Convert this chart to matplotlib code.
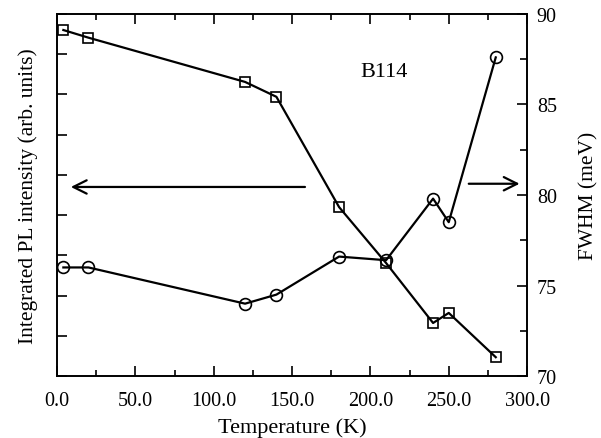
import matplotlib
matplotlib.use("Agg")
import matplotlib.pyplot as plt
from matplotlib.ticker import MultipleLocator, NullFormatter

plt.rcParams['font.family'] = 'Liberation Serif'
plt.rcParams['font.size'] = 14.5

# temperature (K)
temp = [4, 20, 120, 140, 180, 210, 240, 250, 280]
# integrated PL intensity, arb. units (left axis, squares)
intensity = [8.6, 8.41, 7.31, 6.94, 4.2, 2.81, 1.32, 1.57, 0.47]
# FWHM in meV (right axis, circles)
fwhm = [76.0, 76.0, 74.0, 74.5, 76.6, 76.4, 79.8, 78.5, 87.6]

fig, ax = plt.subplots(figsize=(6.01, 4.39), dpi=100)
fig.subplots_adjust(left=0.095, right=0.877, top=0.966, bottom=0.141)
ax2 = ax.twinx()

ax.plot(temp, intensity, 'ks-', mfc='none', ms=7, mew=1.2, lw=1.6)
ax2.plot(temp, fwhm, 'ko-', mfc='none', ms=8.5, mew=1.2, lw=1.6)

ax.set_xlim(0, 300)
ax.set_ylim(0, 9)
ax2.set_ylim(70, 90)

ax.xaxis.set_major_locator(MultipleLocator(50))
ax.xaxis.set_minor_locator(MultipleLocator(25))
ax.xaxis.set_major_formatter(lambda v, p: f"{v:.1f}")
ax.yaxis.set_major_locator(MultipleLocator(1))
ax.yaxis.set_major_formatter(NullFormatter())
ax2.yaxis.set_major_locator(MultipleLocator(5))
ax2.yaxis.set_minor_locator(MultipleLocator(2.5))

ax.tick_params(axis='x', which='both', direction='in', top=True, width=1.2)
ax.tick_params(axis='x', which='major', length=7, pad=11)
ax.tick_params(axis='x', which='minor', length=4)
ax.tick_params(axis='y', which='major', direction='in', length=7, width=1.2)
ax2.tick_params(axis='y', which='both', direction='in', width=1.2)
ax2.tick_params(axis='y', which='major', length=7, pad=7)
ax2.tick_params(axis='y', which='minor', length=5)

for a in (ax, ax2):
    for s in a.spines.values():
        s.set_linewidth(1.2)

ax.set_xlabel('Temperature (K)', fontsize=16, labelpad=5)
ax.set_ylabel('Integrated PL intensity (arb. units)', fontsize=15.5, labelpad=10)
ax2.set_ylabel('FWHM (meV)', fontsize=15.5, labelpad=16)

ax.text(209, 7.56, 'B114', ha='center', va='center', fontsize=16)
ax.annotate('', xy=(7, 4.7), xytext=(160, 4.7),
            arrowprops=dict(arrowstyle='->', lw=1.6, mutation_scale=24))
ax.annotate('', xy=(297, 4.78), xytext=(261, 4.78),
            arrowprops=dict(arrowstyle='->', lw=1.6, mutation_scale=24))

fig.savefig('out.png', dpi=100)
